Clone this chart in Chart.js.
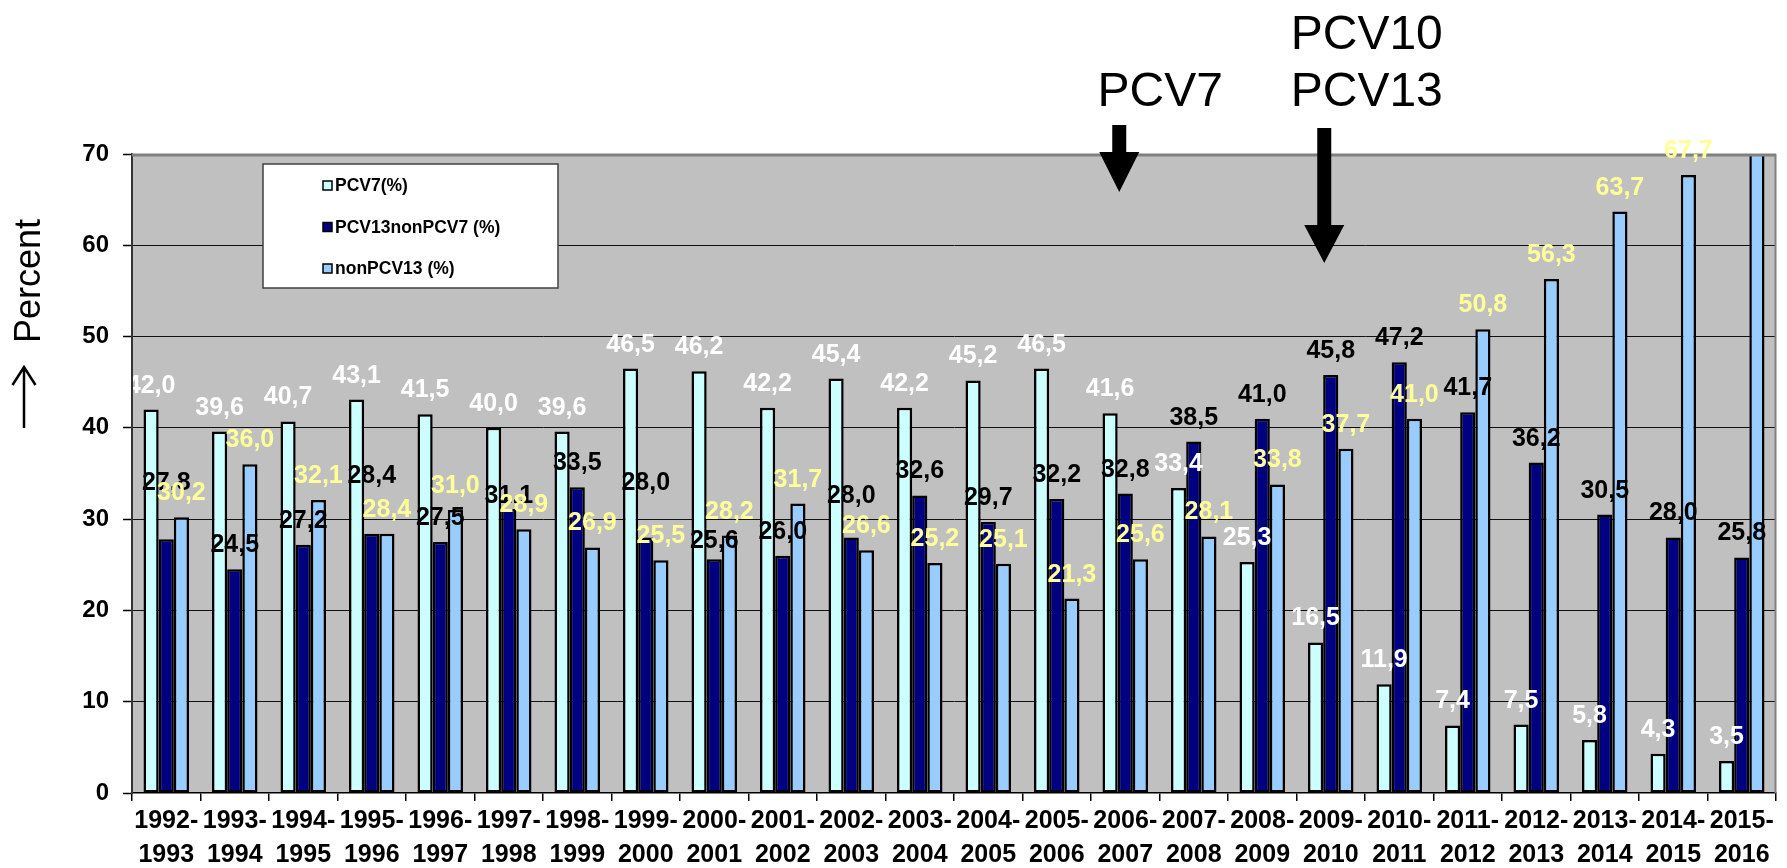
<!DOCTYPE html>
<html>
<head>
<meta charset="utf-8">
<script src="https://cdn.jsdelivr.net/npm/chart.js@4.4.1/dist/chart.umd.min.js"></script>
<style>
  html, body { margin: 0; padding: 0; background: #ffffff; }
  #wrap { width: 1787px; height: 868px; position: relative; }
</style>
</head>
<body>
<div id="wrap"><canvas id="chart"></canvas></div>
<script>
// Seasons (x categories)
const seasons = [
  '1992-1993', '1993-1994', '1994-1995', '1995-1996', '1996-1997', '1997-1998',
  '1998-1999', '1999-2000', '2000-2001', '2001-2002', '2002-2003', '2003-2004',
  '2004-2005', '2005-2006', '2006-2007', '2007-2008', '2008-2009', '2009-2010',
  '2010-2011', '2011-2012', '2012-2013', '2013-2014', '2014-2015', '2015-2016'
];

// Serotype group shares per season (%)
const pcv7 = [
  42.0, 39.6, 40.7, 43.1, 41.5, 40.0, 39.6, 46.5, 46.2, 42.2, 45.4, 42.2,
  45.2, 46.5, 41.6, 33.4, 25.3, 16.5, 11.9, 7.4, 7.5, 5.8, 4.3, 3.5
];
const pcv13nonPcv7 = [
  27.8, 24.5, 27.2, 28.4, 27.5, 31.1, 33.5, 28.0, 25.6, 26.0, 28.0, 32.6,
  29.7, 32.2, 32.8, 38.5, 41.0, 45.8, 47.2, 41.7, 36.2, 30.5, 28.0, 25.8
];
const nonPcv13 = [
  30.2, 36.0, 32.1, 28.4, 31.0, 28.9, 26.9, 25.5, 28.2, 31.7, 26.6, 25.2,
  25.1, 21.3, 25.6, 28.1, 33.8, 37.7, 41.0, 50.8, 56.3, 63.7, 67.7, 70.7
];

const seriesNames = ['PCV7(%)', 'PCV13nonPCV7 (%)', 'nonPCV13 (%)'];
const yTickValues = [0, 10, 20, 30, 40, 50, 60, 70];

// Vaccine introductions marked above the plot
const vaccineMarks = [
  { lines: ['PCV7'], season: '2006-2007' },
  { lines: ['PCV10', 'PCV13'], season: '2009-2010' }
];

const FONT = "'Liberation Sans', Arial, Helvetica, sans-serif";
const fills = ['#CCFFFF', '#000080', '#99CCFF'];
const labelColors = ['#FFFFFF', '#000000', '#FFFF99'];
// a few value labels sit higher/lower than the rest (px, negative = up)
const labelNudge = { 1: { 0: -32, 3: -34, 5: 11, 7: -30, 8: 6, 10: -17 } };

const fmt = v => v.toFixed(1).replace('.', ',');

// gray plot background
const plotBackground = {
  id: 'plotBackground',
  beforeDraw(chart) {
    const { ctx, chartArea: a } = chart;
    ctx.save();
    ctx.fillStyle = '#C0C0C0';
    ctx.fillRect(a.left, a.top, a.right - a.left, a.bottom - a.top);
    ctx.restore();
  }
};

// top/right plot frame, value labels, legend box, axis title, vaccine arrows
const overlays = {
  id: 'overlays',
  afterDatasetsDraw(chart) {
    const { ctx, chartArea: a } = chart;
    const yMax = chart.scales.y.max;

    // frame
    ctx.save();
    ctx.strokeStyle = '#808080';
    ctx.lineWidth = 3;
    ctx.beginPath();
    ctx.moveTo(a.left, a.top + 1);
    ctx.lineTo(a.right, a.top + 1);
    ctx.stroke();
    ctx.lineWidth = 2;
    ctx.beginPath();
    ctx.moveTo(a.right - 0.5, a.top);
    ctx.lineTo(a.right - 0.5, a.bottom);
    ctx.stroke();
    ctx.restore();

    // value labels (kept right of the value axis)
    ctx.save();
    ctx.beginPath();
    ctx.rect(a.left + 1, 0, chart.width - a.left, chart.height);
    ctx.clip();
    ctx.font = 'bold 25px ' + FONT;
    ctx.textAlign = 'center';
    ctx.textBaseline = 'alphabetic';
    chart.data.datasets.forEach((ds, di) => {
      const meta = chart.getDatasetMeta(di);
      ctx.fillStyle = labelColors[di];
      meta.data.forEach((bar, i) => {
        const v = ds.data[i];
        if (v > yMax) return;
        const nudge = (labelNudge[di] && labelNudge[di][i]) || 0;
        ctx.fillText(fmt(v), bar.x, bar.y - 17 + nudge);
      });
    });
    ctx.restore();

    // legend
    ctx.save();
    const lx = 263, ly = 164, lw = 295, lh = 124;
    ctx.fillStyle = '#FFFFFF';
    ctx.fillRect(lx, ly, lw, lh);
    ctx.strokeStyle = '#404040';
    ctx.lineWidth = 1.5;
    ctx.strokeRect(lx, ly, lw, lh);
    ctx.font = 'bold 17.5px ' + FONT;
    ctx.textAlign = 'left';
    ctx.textBaseline = 'middle';
    chart.data.datasets.forEach((ds, di) => {
      const cy = ly + 21.5 + di * 41.5;
      ctx.fillStyle = ds.backgroundColor;
      ctx.fillRect(323, cy - 4.5, 9, 9);
      ctx.strokeStyle = '#000000';
      ctx.lineWidth = 1.5;
      ctx.strokeRect(323, cy - 4.5, 9, 9);
      ctx.fillStyle = '#000000';
      ctx.fillText(ds.label, 335, cy + 1);
    });
    ctx.restore();

    // y axis title with arrow
    ctx.save();
    ctx.translate(40, 343);
    ctx.rotate(-Math.PI / 2);
    ctx.font = '36px ' + FONT;
    ctx.fillStyle = '#000000';
    ctx.textAlign = 'left';
    ctx.textBaseline = 'alphabetic';
    ctx.fillText('Percent', 0, 0);
    ctx.restore();
    ctx.save();
    ctx.strokeStyle = '#000000';
    ctx.lineWidth = 2.5;
    ctx.beginPath();
    ctx.moveTo(24, 428);
    ctx.lineTo(24, 367);
    ctx.moveTo(12.5, 385);
    ctx.lineTo(24, 367);
    ctx.lineTo(35.5, 385);
    ctx.stroke();
    ctx.restore();

    // vaccine introduction arrows and names
    const xs = chart.scales.x;
    const arrowSpec = [
      { dx: -6, top: 125, headTop: 152, tip: 192, textDx: 35, baselines: [106] },
      { dx: -6.5, top: 128, headTop: 225, tip: 263, textDx: 36, baselines: [49, 106] }
    ];
    ctx.save();
    ctx.fillStyle = '#000000';
    ctx.font = '48px ' + FONT;
    ctx.textAlign = 'center';
    ctx.textBaseline = 'alphabetic';
    vaccineMarks.forEach((m, k) => {
      const s = arrowSpec[k];
      const cx = xs.getPixelForValue(seasons.indexOf(m.season)) + s.dx;
      ctx.fillRect(cx - 7, s.top, 14, s.headTop - s.top + 1);
      ctx.beginPath();
      ctx.moveTo(cx - 20, s.headTop);
      ctx.lineTo(cx + 20, s.headTop);
      ctx.lineTo(cx, s.tip);
      ctx.closePath();
      ctx.fill();
      const tx = xs.getPixelForValue(seasons.indexOf(m.season)) + s.textDx;
      m.lines.forEach((t, j) => ctx.fillText(t, tx, s.baselines[j]));
    });
    ctx.restore();
  }
};

const series = [pcv7, pcv13nonPcv7, nonPcv13];

new Chart(document.getElementById('chart'), {
  type: 'bar',
  data: {
    labels: seasons.map(s => {
      const [a, b] = s.split('-');
      return [a + '-', b];
    }),
    datasets: series.map((d, i) => ({
      label: seriesNames[i],
      data: d,
      backgroundColor: fills[i],
      borderColor: '#000000',
      borderWidth: 2.5,
      borderSkipped: false,
      categoryPercentage: 0.664,
      barPercentage: 1.0,
      clip: 0
    }))
  },
  options: {
    responsive: true,
    maintainAspectRatio: false,
    animation: false,
    events: [],
    layout: { padding: { left: 0, top: 154, right: 11, bottom: 0 } },
    plugins: {
      legend: { display: false },
      tooltip: { enabled: false }
    },
    scales: {
      x: {
        offset: true,
        afterFit(scale) { scale.height = 75; },
        grid: {
          display: true,
          drawOnChartArea: false,
          drawTicks: true,
          tickLength: 8,
          color: '#000000',
          lineWidth: 1.5,
          offset: true
        },
        border: { display: true, color: '#000000', width: 1.5 },
        ticks: {
          autoSkip: false,
          maxRotation: 0,
          minRotation: 0,
          padding: 3,
          color: '#000000',
          font: { family: FONT, size: 25, weight: 'bold', lineHeight: '34px' }
        }
      },
      y: {
        min: 0,
        max: 70,
        afterFit(scale) { scale.width = 132; },
        afterBuildTicks(scale) { scale.ticks = yTickValues.map(v => ({ value: v })); },
        grid: {
          drawTicks: true,
          tickLength: 9,
          tickColor: '#000000',
          tickWidth: 1.5,
          color: ctx => (ctx.tick && (ctx.tick.value === 0 || ctx.tick.value === 70)) ? 'rgba(0,0,0,0)' : '#111111',
          lineWidth: 1
        },
        border: { display: true, color: '#333333', width: 2 },
        ticks: {
          padding: 14,
          color: '#000000',
          font: { family: FONT, size: 24, weight: 'bold' }
        }
      }
    }
  },
  plugins: [plotBackground, overlays]
});
</script>
</body>
</html>
